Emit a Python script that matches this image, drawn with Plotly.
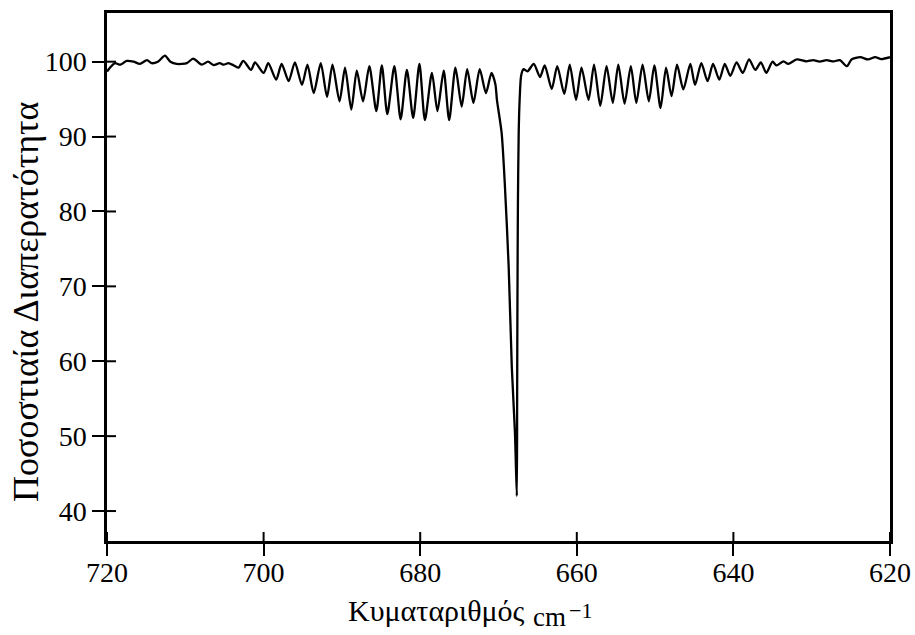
import plotly.graph_objects as go

# Wavenumber (cm^-1) and percent transmittance
wavenumber = [
    720.0, 719.0, 718.3, 717.5, 716.6, 715.8, 714.9, 714.3, 713.5, 712.6,
    711.9, 711.1, 709.8, 709.0, 707.9, 707.1, 706.4, 705.6, 705.1, 704.5,
    703.8, 703.2, 702.6, 701.6, 701.1, 700.0, 699.4, 698.4, 697.7, 696.8,
    696.0, 695.1, 694.4, 693.6, 692.7, 691.9, 691.2, 690.3, 689.6, 688.8,
    688.1, 687.3, 686.5, 685.6, 684.9, 684.2, 683.3, 682.5, 681.7, 680.9,
    680.1, 679.4, 678.5, 677.8, 677.0, 676.3, 675.5, 674.7, 674.0, 673.2,
    672.4, 671.6, 670.9, 670.4, 670.2, 669.6, 669.2, 668.7, 668.3, 667.9,
    667.66, 667.62, 667.58, 667.52, 667.42, 667.30, 667.10, 666.8, 666.3, 665.5,
    664.7, 664.1, 663.2, 662.5, 661.6, 660.9, 660.1, 659.4, 658.5, 657.8,
    657.0, 656.2, 655.4, 654.7, 653.9, 653.1, 652.4, 651.6, 650.8, 650.1,
    649.3, 648.6, 647.9, 647.2, 646.4, 645.5, 644.9, 644.1, 643.3, 642.6,
    641.8, 641.1, 640.4, 639.6, 638.8, 638.0, 637.2, 636.5, 635.8, 635.0,
    634.5, 633.6, 633.0, 631.9, 630.7, 629.8, 629.0, 628.1, 627.2, 626.4,
    625.5, 624.9, 623.8, 622.8, 621.9, 621.1, 620.0,
]
transmittance = [
    98.7, 99.8, 99.6, 100.1, 100.0, 99.7, 100.2, 99.8, 100.0, 100.8,
    100.0, 99.7, 99.8, 100.4, 99.6, 100.0, 99.55, 99.8, 99.6, 99.8,
    99.5, 99.2, 100.1, 98.9, 99.9, 98.5, 99.8, 97.6, 99.7, 97.4,
    99.9, 96.9, 99.6, 95.8, 99.8, 95.3, 99.6, 94.7, 99.2, 93.6,
    98.8, 94.7, 99.4, 93.4, 99.5, 93.0, 99.4, 92.3, 98.9, 92.5,
    99.7, 92.2, 98.5, 93.4, 98.8, 92.2, 99.2, 94.0, 99.0, 94.5,
    99.0, 95.8, 98.5, 97.0, 94.9, 90.5, 83.8, 72.6, 59.2, 50.5,
    42.0, 55.0, 68.0, 81.0, 90.5, 94.9, 98.2, 99.0, 98.7, 99.7,
    97.95, 99.5, 96.35, 99.4, 95.7, 99.6, 94.9, 99.2, 94.9, 99.6,
    94.1, 99.4, 94.5, 99.6, 94.4, 99.4, 94.5, 99.6, 94.7, 99.5,
    93.8, 99.2, 95.4, 99.6, 96.3, 99.7, 96.9, 99.8, 97.4, 99.7,
    97.6, 99.7, 98.1, 99.9, 98.5, 100.3, 98.9, 99.9, 98.5, 100.0,
    99.5, 100.05, 99.7, 100.3, 100.05, 100.2, 100.0, 100.2, 100.05, 100.2,
    99.4, 100.3, 100.6, 100.3, 100.6, 100.35, 100.6,
]

x_ticks = [720, 700, 680, 660, 640, 620]
y_ticks = [40, 50, 60, 70, 80, 90, 100]
x_range = [720, 620]
y_range = [36, 106.5]

FONT = "Liberation Serif"
W, H = 915, 635
ML, MR, MT, MB = 107, 25, 13, 94
PW, PH = W - ML - MR, H - MT - MB

fig = go.Figure()
fig.add_trace(go.Scatter(
    x=wavenumber, y=transmittance, mode="lines",
    line=dict(color="black", width=2.3, shape="spline", smoothing=0.7),
    showlegend=False, hoverinfo="skip",
))

tick_font = dict(family=FONT, size=28, color="black")

fig.update_layout(
    width=W, height=H,
    margin=dict(l=ML, r=MR, t=MT, b=MB, autoexpand=False),
    paper_bgcolor="white", plot_bgcolor="white",
    xaxis=dict(range=x_range, tickvals=x_ticks, ticks="outside", ticklen=12,
               tickwidth=2, tickcolor="black", showline=True, linewidth=2.5,
               linecolor="black", mirror=True, showgrid=False, zeroline=False,
               tickfont=tick_font, ticklabelstandoff=-7, automargin=False),
    yaxis=dict(range=y_range, tickvals=y_ticks, ticks="outside", ticklen=12,
               tickwidth=2, tickcolor="black", showline=True, linewidth=2.5,
               linecolor="black", mirror=True, showgrid=False, zeroline=False,
               tickfont=tick_font, automargin=False),
)

# tick marks continue a little inside the frame (crossing ticks)
for t in x_ticks:
    fig.add_shape(type="line", xref="x", yref="paper", x0=t, x1=t,
                  y0=0, y1=9 / PH, line=dict(color="black", width=2))
for t in y_ticks:
    fig.add_shape(type="line", xref="paper", yref="y", x0=0, x1=9 / PW,
                  y0=t, y1=t, line=dict(color="black", width=2))

def px(xp):
    return (xp - ML) / PW

def py(yp):
    return (H - MB - yp) / PH

fig.add_annotation(text="Ποσοστιαία Διαπερατότητα", textangle=-90,
                   xref="paper", yref="paper", x=px(26), y=py(302),
                   xanchor="center", yanchor="middle",
                   showarrow=False, font=dict(family=FONT, size=36, color="black"))
fig.add_annotation(text="Κυματαριθμός", xref="paper", yref="paper",
                   x=px(527), y=py(610), xanchor="right", yanchor="middle",
                   showarrow=False, font=dict(family=FONT, size=30, color="black"))
fig.add_annotation(text="cm", xref="paper", yref="paper",
                   x=px(531), y=py(617), xanchor="left", yanchor="middle",
                   showarrow=False, font=dict(family=FONT, size=27, color="black"))
fig.add_annotation(text="−1", xref="paper", yref="paper",
                   x=px(567), y=py(610), xanchor="left", yanchor="middle",
                   showarrow=False, font=dict(family=FONT, size=22, color="black"))

fig.write_html("out.html")
